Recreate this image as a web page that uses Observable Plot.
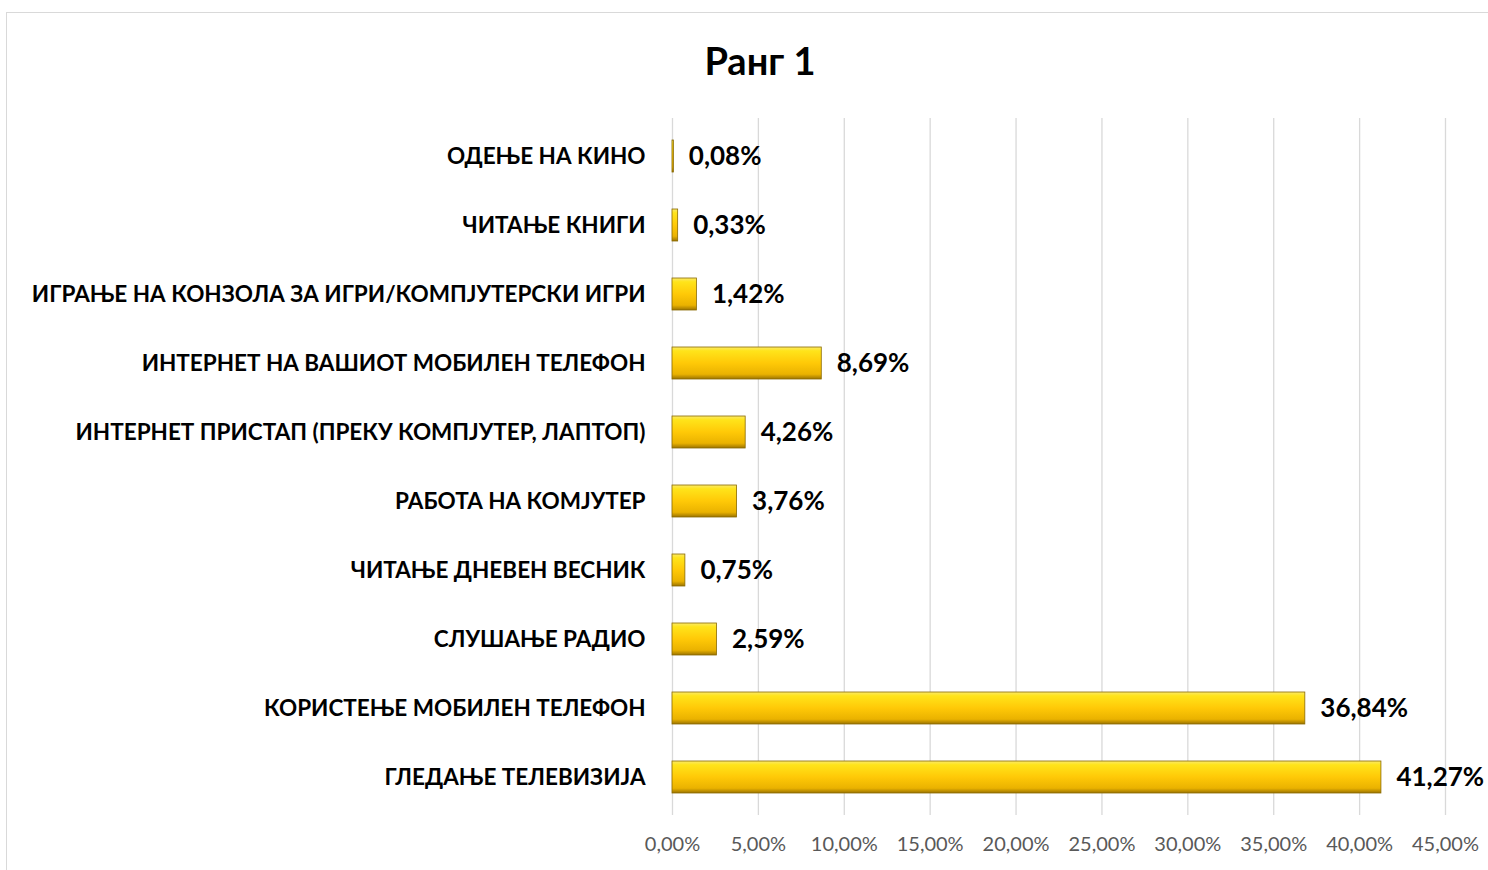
<!DOCTYPE html>
<html><head><meta charset="utf-8">
<script src="https://cdn.jsdelivr.net/npm/d3@7"></script>
<script src="https://cdn.jsdelivr.net/npm/@observablehq/plot@0.6"></script>
<style>
html,body{margin:0;padding:0;background:#fff;}
#frame{position:absolute;left:6px;top:12px;width:1500px;height:880px;border:1px solid #d9d9d9;box-sizing:border-box;}
#title{position:absolute;left:0;width:1520px;top:37px;text-align:center;font:bold 38px Lato,"Open Sans",sans-serif;color:#000;}
#chart{position:absolute;left:0;top:0;}
</style></head>
<body>
<div id="frame"></div>
<div id="title">Ранг 1</div>
<div id="chart"></div>
<script>
const categories = [
  "ОДЕЊЕ НА КИНО",
  "ЧИТАЊЕ КНИГИ",
  "ИГРАЊЕ НА КОНЗОЛА ЗА ИГРИ/КОМПЈУТЕРСКИ ИГРИ",
  "ИНТЕРНЕТ НА ВАШИОТ МОБИЛЕН ТЕЛЕФОН",
  "ИНТЕРНЕТ ПРИСТАП (ПРЕКУ КОМПЈУТЕР, ЛАПТОП)",
  "РАБОТА НА КОМЈУТЕР",
  "ЧИТАЊЕ ДНЕВЕН ВЕСНИК",
  "СЛУШАЊЕ РАДИО",
  "КОРИСТЕЊЕ МОБИЛЕН ТЕЛЕФОН",
  "ГЛЕДАЊЕ ТЕЛЕВИЗИЈА"
];
const values = [0.08, 0.33, 1.42, 8.69, 4.26, 3.76, 0.75, 2.59, 36.84, 41.27];
const xTicks = [0, 5, 10, 15, 20, 25, 30, 35, 40, 45];

const data = categories.map((c, i) => ({category: c, value: values[i]}));
const fmt = v => v.toFixed(2).replace(".", ",") + "%";
const font = 'Lato,"Open Sans",sans-serif';

const chart = Plot.plot({
  width: 1488,
  height: 870,
  marginLeft: 672,
  marginRight: 43,
  marginTop: 118,
  marginBottom: 55,
  style: {fontFamily: font, background: "transparent"},
  x: {domain: [0, 45], ticks: xTicks, tickFormat: fmt, label: null, tickSize: 0, tickPadding: 21},
  y: {domain: categories, label: null, tickSize: 0, tickPadding: 27, paddingInner: 0.54, paddingOuter: 0.27},
  marks: [
    Plot.gridX(xTicks, {stroke: "#d9d9d9", strokeOpacity: 1, strokeWidth: 1.3}),
    Plot.barX(data, {x: "value", y: "category", fill: "url(#gold)", stroke: "#8a6a00", strokeWidth: 0.8}),
    Plot.text(data, {x: "value", y: "category", text: d => fmt(d.value), dx: 15, textAnchor: "start",
      fontWeight: "bold", fontSize: 26, fill: "#000"})
  ]
});

// gradient definition for bars
const svgNS = "http://www.w3.org/2000/svg";
const defs = document.createElementNS(svgNS, "defs");
defs.innerHTML = `<linearGradient id="gold" x1="0" y1="0" x2="0" y2="1">
  <stop offset="0" stop-color="#fbe96a"/>
  <stop offset="0.12" stop-color="#ffe41a"/>
  <stop offset="0.5" stop-color="#ffc907"/>
  <stop offset="0.85" stop-color="#eab200"/>
  <stop offset="1" stop-color="#9c7400"/>
</linearGradient>`;
chart.insertBefore(defs, chart.firstChild);

// axis label styling
d3.select(chart).selectAll("[aria-label='x-axis tick label']").attr("fill", "#595959").attr("font-size", 20);
d3.select(chart).selectAll("[aria-label='y-axis tick label']").attr("fill", "#000").attr("font-size", 22.5).attr("font-weight", "bold");

document.getElementById("chart").appendChild(chart);
</script>
</body></html>
